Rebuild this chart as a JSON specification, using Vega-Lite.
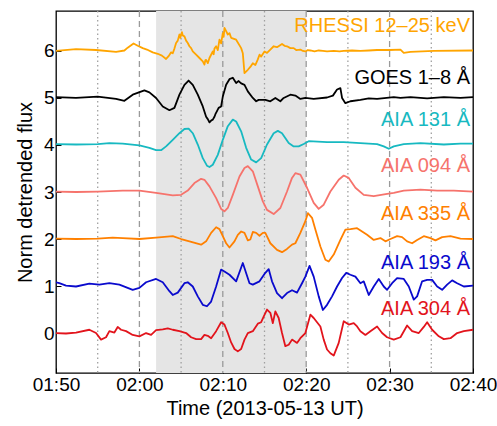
{
  "$schema": "https://vega.github.io/schema/vega-lite/v6.json",
  "width": 417,
  "height": 362,
  "autosize": {"type": "none"},
  "padding": {"left": 56, "top": 11, "right": 24, "bottom": 53},
  "config": {
    "font": "Liberation Sans",
    "view": {"stroke": "#000", "strokeWidth": 1.3},
    "axis": {"grid": false, "domain": false, "tickColor": "#000", "tickSize": -5, "labelColor": "#000", "titleColor": "#000", "labelFont": "Liberation Sans", "titleFont": "Liberation Sans", "labelFontSize": 19, "titleFontSize": 20, "titleFontWeight": "normal"}
  },
  "datasets": {
    "series": [
      {"s":"RHESSI","t":110,"v":6.00},{"s":"RHESSI","t":112.4,"v":6.04},{"s":"RHESSI","t":114.8,"v":6.02},{"s":"RHESSI","t":117.2,"v":5.98},{"s":"RHESSI","t":118.2,"v":6.01},{"s":"RHESSI","t":118.6,"v":6.07},{"s":"RHESSI","t":119.3,"v":6.16},{"s":"RHESSI","t":119.8,"v":6.11},{"s":"RHESSI","t":120.4,"v":6.06},{"s":"RHESSI","t":120.9,"v":6.03},{"s":"RHESSI","t":121.6,"v":5.97},{"s":"RHESSI","t":122.2,"v":5.94},{"s":"RHESSI","t":122.7,"v":5.90},{"s":"RHESSI","t":123.2,"v":5.83},{"s":"RHESSI","t":123.5,"v":5.89},{"s":"RHESSI","t":123.8,"v":5.97},{"s":"RHESSI","t":124.0,"v":5.95},{"s":"RHESSI","t":124.2,"v":6.05},{"s":"RHESSI","t":124.4,"v":6.17},{"s":"RHESSI","t":124.6,"v":6.22},{"s":"RHESSI","t":124.8,"v":6.35},{"s":"RHESSI","t":124.9,"v":6.28},{"s":"RHESSI","t":125.1,"v":6.40},{"s":"RHESSI","t":125.2,"v":6.33},{"s":"RHESSI","t":125.4,"v":6.31},{"s":"RHESSI","t":125.6,"v":6.22},{"s":"RHESSI","t":125.8,"v":6.17},{"s":"RHESSI","t":126.0,"v":6.10},{"s":"RHESSI","t":126.2,"v":6.06},{"s":"RHESSI","t":126.4,"v":5.99},{"s":"RHESSI","t":126.8,"v":5.92},{"s":"RHESSI","t":127.2,"v":5.85},{"s":"RHESSI","t":127.6,"v":5.78},{"s":"RHESSI","t":127.8,"v":5.71},{"s":"RHESSI","t":127.9,"v":5.80},{"s":"RHESSI","t":128.0,"v":5.81},{"s":"RHESSI","t":128.2,"v":5.74},{"s":"RHESSI","t":128.4,"v":5.85},{"s":"RHESSI","t":128.6,"v":5.92},{"s":"RHESSI","t":128.8,"v":5.99},{"s":"RHESSI","t":128.9,"v":5.93},{"s":"RHESSI","t":129.0,"v":6.05},{"s":"RHESSI","t":129.2,"v":6.10},{"s":"RHESSI","t":129.4,"v":6.02},{"s":"RHESSI","t":129.6,"v":6.24},{"s":"RHESSI","t":129.8,"v":6.16},{"s":"RHESSI","t":130.0,"v":6.38},{"s":"RHESSI","t":130.1,"v":6.30},{"s":"RHESSI","t":130.2,"v":6.49},{"s":"RHESSI","t":130.4,"v":6.42},{"s":"RHESSI","t":130.6,"v":6.35},{"s":"RHESSI","t":130.8,"v":6.38},{"s":"RHESSI","t":131.0,"v":6.28},{"s":"RHESSI","t":131.6,"v":6.24},{"s":"RHESSI","t":132.2,"v":6.06},{"s":"RHESSI","t":132.4,"v":5.95},{"s":"RHESSI","t":132.6,"v":5.53},{"s":"RHESSI","t":133.0,"v":5.60},{"s":"RHESSI","t":133.3,"v":5.66},{"s":"RHESSI","t":133.6,"v":5.74},{"s":"RHESSI","t":133.9,"v":5.70},{"s":"RHESSI","t":134.2,"v":5.82},{"s":"RHESSI","t":134.4,"v":5.92},{"s":"RHESSI","t":134.6,"v":5.88},{"s":"RHESSI","t":135.0,"v":5.99},{"s":"RHESSI","t":135.3,"v":5.96},{"s":"RHESSI","t":135.7,"v":6.03},{"s":"RHESSI","t":136.1,"v":6.10},{"s":"RHESSI","t":136.5,"v":6.08},{"s":"RHESSI","t":137.1,"v":6.15},{"s":"RHESSI","t":137.4,"v":6.11},{"s":"RHESSI","t":137.7,"v":6.10},{"s":"RHESSI","t":138.1,"v":6.06},{"s":"RHESSI","t":138.5,"v":6.06},{"s":"RHESSI","t":138.8,"v":6.02},{"s":"RHESSI","t":139.3,"v":6.03},{"s":"RHESSI","t":139.6,"v":6.00},{"s":"RHESSI","t":139.9,"v":5.99},{"s":"RHESSI","t":140.2,"v":6.02},{"s":"RHESSI","t":140.5,"v":6.01},{"s":"RHESSI","t":141.0,"v":5.99},{"s":"RHESSI","t":141.5,"v":6.01},{"s":"RHESSI","t":142.0,"v":6.00},{"s":"RHESSI","t":142.5,"v":5.99},{"s":"RHESSI","t":143.3,"v":6.00},{"s":"RHESSI","t":144.0,"v":5.99},{"s":"RHESSI","t":144.5,"v":6.00},{"s":"RHESSI","t":145.5,"v":6.01},{"s":"RHESSI","t":146.5,"v":6.00},{"s":"RHESSI","t":147.5,"v":6.01},{"s":"RHESSI","t":148.5,"v":6.02},{"s":"RHESSI","t":150.0,"v":6.02},{"s":"RHESSI","t":151.3,"v":6.03},{"s":"RHESSI","t":151.7,"v":5.96},{"s":"RHESSI","t":152.5,"v":5.98},{"s":"RHESSI","t":155.3,"v":6.00},{"s":"RHESSI","t":160,"v":6.01},

      {"s":"GOES","t":110,"v":5.02},{"s":"GOES","t":112.4,"v":5.00},{"s":"GOES","t":115,"v":5.03},{"s":"GOES","t":117.2,"v":4.98},{"s":"GOES","t":118.2,"v":4.94},{"s":"GOES","t":119.2,"v":5.07},{"s":"GOES","t":120.6,"v":5.16},{"s":"GOES","t":121.2,"v":5.12},{"s":"GOES","t":122,"v":5.00},{"s":"GOES","t":122.8,"v":4.82},{"s":"GOES","t":123.6,"v":4.74},{"s":"GOES","t":124.2,"v":4.79},{"s":"GOES","t":124.8,"v":5.07},{"s":"GOES","t":125.4,"v":5.28},{"s":"GOES","t":125.9,"v":5.37},{"s":"GOES","t":126.4,"v":5.28},{"s":"GOES","t":127,"v":5.07},{"s":"GOES","t":127.6,"v":4.82},{"s":"GOES","t":128,"v":4.60},{"s":"GOES","t":128.2,"v":4.55},{"s":"GOES","t":128.4,"v":4.48},{"s":"GOES","t":128.6,"v":4.52},{"s":"GOES","t":128.8,"v":4.54},{"s":"GOES","t":129.0,"v":4.60},{"s":"GOES","t":129.1,"v":4.65},{"s":"GOES","t":129.5,"v":4.79},{"s":"GOES","t":129.8,"v":4.82},{"s":"GOES","t":130,"v":5.03},{"s":"GOES","t":130.4,"v":5.28},{"s":"GOES","t":130.8,"v":5.40},{"s":"GOES","t":131.2,"v":5.43},{"s":"GOES","t":131.6,"v":5.32},{"s":"GOES","t":131.9,"v":5.36},{"s":"GOES","t":132.2,"v":5.31},{"s":"GOES","t":132.6,"v":5.28},{"s":"GOES","t":133,"v":5.14},{"s":"GOES","t":133.6,"v":5.00},{"s":"GOES","t":134,"v":4.93},{"s":"GOES","t":134.3,"v":4.96},{"s":"GOES","t":134.6,"v":4.96},{"s":"GOES","t":135.1,"v":4.96},{"s":"GOES","t":135.7,"v":4.93},{"s":"GOES","t":136.3,"v":5.00},{"s":"GOES","t":136.9,"v":4.93},{"s":"GOES","t":137.3,"v":5.00},{"s":"GOES","t":138.1,"v":5.07},{"s":"GOES","t":138.7,"v":5.05},{"s":"GOES","t":139.3,"v":4.98},{"s":"GOES","t":139.9,"v":5.00},{"s":"GOES","t":140.9,"v":4.98},{"s":"GOES","t":142.5,"v":5.01},{"s":"GOES","t":143.2,"v":5.05},{"s":"GOES","t":143.7,"v":5.18},{"s":"GOES","t":144.1,"v":5.21},{"s":"GOES","t":144.3,"v":5.00},{"s":"GOES","t":144.7,"v":4.89},{"s":"GOES","t":145.3,"v":4.93},{"s":"GOES","t":146.5,"v":4.96},{"s":"GOES","t":147.5,"v":4.99},{"s":"GOES","t":148.5,"v":4.98},{"s":"GOES","t":150.5,"v":5.02},{"s":"GOES","t":151.3,"v":5.00},{"s":"GOES","t":152.5,"v":5.02},{"s":"GOES","t":154.5,"v":4.99},{"s":"GOES","t":156.5,"v":5.02},{"s":"GOES","t":158.5,"v":5.00},{"s":"GOES","t":160,"v":5.02},

      {"s":"AIA131","t":110,"v":4.02},{"s":"AIA131","t":112.4,"v":4.01},{"s":"AIA131","t":115,"v":4.02},{"s":"AIA131","t":116.4,"v":4.04},{"s":"AIA131","t":118,"v":4.03},{"s":"AIA131","t":120,"v":3.99},{"s":"AIA131","t":121.2,"v":3.94},{"s":"AIA131","t":122,"v":3.89},{"s":"AIA131","t":122.6,"v":3.89},{"s":"AIA131","t":123.2,"v":3.97},{"s":"AIA131","t":124,"v":4.11},{"s":"AIA131","t":124.8,"v":4.25},{"s":"AIA131","t":125.4,"v":4.34},{"s":"AIA131","t":125.9,"v":4.35},{"s":"AIA131","t":126.4,"v":4.25},{"s":"AIA131","t":127,"v":4.01},{"s":"AIA131","t":127.6,"v":3.72},{"s":"AIA131","t":128.1,"v":3.56},{"s":"AIA131","t":128.4,"v":3.53},{"s":"AIA131","t":128.8,"v":3.58},{"s":"AIA131","t":129.4,"v":3.79},{"s":"AIA131","t":130,"v":4.11},{"s":"AIA131","t":130.6,"v":4.40},{"s":"AIA131","t":131.2,"v":4.54},{"s":"AIA131","t":131.6,"v":4.50},{"s":"AIA131","t":132.2,"v":4.29},{"s":"AIA131","t":132.8,"v":3.94},{"s":"AIA131","t":133.4,"v":3.69},{"s":"AIA131","t":134,"v":3.63},{"s":"AIA131","t":134.6,"v":3.72},{"s":"AIA131","t":135.3,"v":4.01},{"s":"AIA131","t":136.1,"v":4.25},{"s":"AIA131","t":136.6,"v":4.30},{"s":"AIA131","t":137.1,"v":4.25},{"s":"AIA131","t":137.9,"v":4.04},{"s":"AIA131","t":138.5,"v":3.97},{"s":"AIA131","t":139.1,"v":3.97},{"s":"AIA131","t":139.7,"v":4.02},{"s":"AIA131","t":140.3,"v":4.08},{"s":"AIA131","t":142.5,"v":4.06},{"s":"AIA131","t":144.5,"v":4.06},{"s":"AIA131","t":146.5,"v":4.04},{"s":"AIA131","t":148.5,"v":4.02},{"s":"AIA131","t":149.3,"v":3.97},{"s":"AIA131","t":149.9,"v":3.92},{"s":"AIA131","t":150.5,"v":3.97},{"s":"AIA131","t":151.7,"v":4.02},{"s":"AIA131","t":153.7,"v":4.04},{"s":"AIA131","t":156.5,"v":4.01},{"s":"AIA131","t":158.5,"v":4.03},{"s":"AIA131","t":160,"v":4.03},

      {"s":"AIA094","t":110,"v":3.01},{"s":"AIA094","t":112.4,"v":3.00},{"s":"AIA094","t":115,"v":3.01},{"s":"AIA094","t":118,"v":3.03},{"s":"AIA094","t":120,"v":3.03},{"s":"AIA094","t":122,"v":2.98},{"s":"AIA094","t":124,"v":2.93},{"s":"AIA094","t":125,"v":2.94},{"s":"AIA094","t":125.8,"v":3.03},{"s":"AIA094","t":126.6,"v":3.19},{"s":"AIA094","t":127.4,"v":3.28},{"s":"AIA094","t":127.8,"v":3.26},{"s":"AIA094","t":128.4,"v":3.12},{"s":"AIA094","t":129.2,"v":2.87},{"s":"AIA094","t":129.8,"v":2.64},{"s":"AIA094","t":130.2,"v":2.59},{"s":"AIA094","t":130.6,"v":2.66},{"s":"AIA094","t":131.2,"v":2.94},{"s":"AIA094","t":132,"v":3.33},{"s":"AIA094","t":132.6,"v":3.51},{"s":"AIA094","t":133,"v":3.55},{"s":"AIA094","t":133.6,"v":3.44},{"s":"AIA094","t":134.2,"v":3.12},{"s":"AIA094","t":134.8,"v":2.80},{"s":"AIA094","t":135.3,"v":2.62},{"s":"AIA094","t":136.1,"v":2.53},{"s":"AIA094","t":136.9,"v":2.66},{"s":"AIA094","t":137.7,"v":3.01},{"s":"AIA094","t":138.3,"v":3.30},{"s":"AIA094","t":138.7,"v":3.40},{"s":"AIA094","t":139.3,"v":3.37},{"s":"AIA094","t":140.1,"v":3.09},{"s":"AIA094","t":140.9,"v":2.77},{"s":"AIA094","t":141.5,"v":2.64},{"s":"AIA094","t":142.1,"v":2.73},{"s":"AIA094","t":142.9,"v":3.01},{"s":"AIA094","t":143.9,"v":3.26},{"s":"AIA094","t":144.5,"v":3.35},{"s":"AIA094","t":145.1,"v":3.30},{"s":"AIA094","t":145.9,"v":3.09},{"s":"AIA094","t":146.9,"v":2.94},{"s":"AIA094","t":148.1,"v":2.91},{"s":"AIA094","t":149.7,"v":2.96},{"s":"AIA094","t":150.5,"v":2.98},{"s":"AIA094","t":151.7,"v":3.03},{"s":"AIA094","t":153.7,"v":3.05},{"s":"AIA094","t":155.7,"v":3.03},{"s":"AIA094","t":157.7,"v":3.03},{"s":"AIA094","t":160,"v":3.01},

      {"s":"AIA335","t":110,"v":2.01},{"s":"AIA335","t":112.4,"v":2.00},{"s":"AIA335","t":115,"v":2.01},{"s":"AIA335","t":116.8,"v":2.03},{"s":"AIA335","t":118,"v":2.02},{"s":"AIA335","t":120,"v":2.00},{"s":"AIA335","t":122,"v":2.03},{"s":"AIA335","t":124,"v":2.06},{"s":"AIA335","t":125,"v":2.00},{"s":"AIA335","t":126,"v":1.95},{"s":"AIA335","t":127.4,"v":1.88},{"s":"AIA335","t":128,"v":1.95},{"s":"AIA335","t":128.6,"v":2.13},{"s":"AIA335","t":129.2,"v":2.25},{"s":"AIA335","t":129.6,"v":2.21},{"s":"AIA335","t":130,"v":2.06},{"s":"AIA335","t":130.4,"v":1.91},{"s":"AIA335","t":130.8,"v":1.82},{"s":"AIA335","t":131.4,"v":1.95},{"s":"AIA335","t":131.8,"v":2.09},{"s":"AIA335","t":132.2,"v":2.16},{"s":"AIA335","t":132.6,"v":2.13},{"s":"AIA335","t":133,"v":1.97},{"s":"AIA335","t":133.3,"v":1.99},{"s":"AIA335","t":133.6,"v":2.15},{"s":"AIA335","t":134,"v":2.13},{"s":"AIA335","t":134.4,"v":2.07},{"s":"AIA335","t":134.8,"v":2.13},{"s":"AIA335","t":135.1,"v":2.13},{"s":"AIA335","t":135.7,"v":1.91},{"s":"AIA335","t":136.5,"v":1.77},{"s":"AIA335","t":137.1,"v":1.72},{"s":"AIA335","t":137.7,"v":1.79},{"s":"AIA335","t":138.3,"v":1.88},{"s":"AIA335","t":138.7,"v":1.91},{"s":"AIA335","t":139.3,"v":2.13},{"s":"AIA335","t":139.9,"v":2.38},{"s":"AIA335","t":140.2,"v":2.55},{"s":"AIA335","t":140.7,"v":2.45},{"s":"AIA335","t":141.1,"v":2.20},{"s":"AIA335","t":141.7,"v":1.84},{"s":"AIA335","t":142.3,"v":1.56},{"s":"AIA335","t":142.7,"v":1.52},{"s":"AIA335","t":143.3,"v":1.67},{"s":"AIA335","t":144.1,"v":1.98},{"s":"AIA335","t":144.7,"v":2.20},{"s":"AIA335","t":145.3,"v":2.21},{"s":"AIA335","t":146.1,"v":2.23},{"s":"AIA335","t":146.7,"v":2.16},{"s":"AIA335","t":147.3,"v":2.09},{"s":"AIA335","t":148.1,"v":1.98},{"s":"AIA335","t":148.9,"v":2.02},{"s":"AIA335","t":149.5,"v":1.95},{"s":"AIA335","t":150.1,"v":2.00},{"s":"AIA335","t":150.9,"v":2.06},{"s":"AIA335","t":151.5,"v":2.04},{"s":"AIA335","t":152.1,"v":1.95},{"s":"AIA335","t":152.7,"v":1.91},{"s":"AIA335","t":153.3,"v":1.98},{"s":"AIA335","t":154.1,"v":2.06},{"s":"AIA335","t":154.9,"v":2.02},{"s":"AIA335","t":155.5,"v":1.97},{"s":"AIA335","t":156.3,"v":2.04},{"s":"AIA335","t":157.3,"v":2.06},{"s":"AIA335","t":158.5,"v":2.01},{"s":"AIA335","t":160,"v":2.00},

      {"s":"AIA193","t":110,"v":1.08},{"s":"AIA193","t":110.4,"v":1.06},{"s":"AIA193","t":111.2,"v":1.01},{"s":"AIA193","t":112.4,"v":0.99},{"s":"AIA193","t":114,"v":1.05},{"s":"AIA193","t":115.2,"v":1.03},{"s":"AIA193","t":116.4,"v":1.06},{"s":"AIA193","t":117.6,"v":1.03},{"s":"AIA193","t":119.2,"v":0.92},{"s":"AIA193","t":120,"v":0.96},{"s":"AIA193","t":120.8,"v":1.08},{"s":"AIA193","t":122,"v":1.15},{"s":"AIA193","t":122.8,"v":1.08},{"s":"AIA193","t":123.6,"v":0.89},{"s":"AIA193","t":124,"v":0.81},{"s":"AIA193","t":124.6,"v":0.86},{"s":"AIA193","t":125.4,"v":1.06},{"s":"AIA193","t":125.8,"v":1.08},{"s":"AIA193","t":126.4,"v":0.99},{"s":"AIA193","t":127,"v":0.78},{"s":"AIA193","t":127.6,"v":0.60},{"s":"AIA193","t":128.1,"v":0.57},{"s":"AIA193","t":128.6,"v":0.67},{"s":"AIA193","t":129.2,"v":0.99},{"s":"AIA193","t":129.8,"v":1.35},{"s":"AIA193","t":130.2,"v":1.31},{"s":"AIA193","t":130.8,"v":1.24},{"s":"AIA193","t":131.6,"v":1.10},{"s":"AIA193","t":132.4,"v":1.49},{"s":"AIA193","t":133.2,"v":1.06},{"s":"AIA193","t":133.6,"v":1.03},{"s":"AIA193","t":134.4,"v":1.10},{"s":"AIA193","t":135.1,"v":1.28},{"s":"AIA193","t":135.5,"v":1.36},{"s":"AIA193","t":135.9,"v":1.10},{"s":"AIA193","t":136.5,"v":0.85},{"s":"AIA193","t":137.1,"v":0.74},{"s":"AIA193","t":137.7,"v":0.85},{"s":"AIA193","t":138.3,"v":0.91},{"s":"AIA193","t":138.9,"v":0.86},{"s":"AIA193","t":139.5,"v":1.06},{"s":"AIA193","t":139.9,"v":1.20},{"s":"AIA193","t":140.4,"v":1.43},{"s":"AIA193","t":140.9,"v":1.20},{"s":"AIA193","t":141.5,"v":0.78},{"s":"AIA193","t":142.0,"v":0.49},{"s":"AIA193","t":142.5,"v":0.60},{"s":"AIA193","t":143.1,"v":0.78},{"s":"AIA193","t":143.7,"v":0.99},{"s":"AIA193","t":144.3,"v":1.17},{"s":"AIA193","t":144.8,"v":1.28},{"s":"AIA193","t":145.3,"v":1.24},{"s":"AIA193","t":145.9,"v":1.20},{"s":"AIA193","t":146.5,"v":1.06},{"s":"AIA193","t":146.9,"v":1.10},{"s":"AIA193","t":147.5,"v":0.81},{"s":"AIA193","t":148.1,"v":0.99},{"s":"AIA193","t":148.7,"v":1.15},{"s":"AIA193","t":149.3,"v":0.99},{"s":"AIA193","t":149.7,"v":0.92},{"s":"AIA193","t":150.3,"v":1.06},{"s":"AIA193","t":150.9,"v":1.17},{"s":"AIA193","t":151.7,"v":1.15},{"s":"AIA193","t":152.3,"v":0.99},{"s":"AIA193","t":152.9,"v":0.71},{"s":"AIA193","t":153.3,"v":0.78},{"s":"AIA193","t":153.9,"v":1.10},{"s":"AIA193","t":154.5,"v":1.13},{"s":"AIA193","t":155.1,"v":1.13},{"s":"AIA193","t":155.7,"v":0.99},{"s":"AIA193","t":156.3,"v":0.92},{"s":"AIA193","t":156.9,"v":1.03},{"s":"AIA193","t":157.5,"v":1.12},{"s":"AIA193","t":158.1,"v":1.06},{"s":"AIA193","t":158.9,"v":0.99},{"s":"AIA193","t":160,"v":1.01},

      {"s":"AIA304","t":110,"v":0.00},{"s":"AIA304","t":111.2,"v":-0.01},{"s":"AIA304","t":112.4,"v":0.01},{"s":"AIA304","t":114,"v":0.07},{"s":"AIA304","t":114.8,"v":0.00},{"s":"AIA304","t":115.4,"v":-0.14},{"s":"AIA304","t":116,"v":-0.09},{"s":"AIA304","t":116.4,"v":0.04},{"s":"AIA304","t":117,"v":0.01},{"s":"AIA304","t":117.4,"v":0.13},{"s":"AIA304","t":117.8,"v":0.07},{"s":"AIA304","t":118.4,"v":0.04},{"s":"AIA304","t":119.2,"v":-0.04},{"s":"AIA304","t":120,"v":-0.07},{"s":"AIA304","t":120.8,"v":0.00},{"s":"AIA304","t":121.4,"v":-0.04},{"s":"AIA304","t":122,"v":0.06},{"s":"AIA304","t":122.8,"v":0.08},{"s":"AIA304","t":123.4,"v":0.10},{"s":"AIA304","t":124,"v":0.07},{"s":"AIA304","t":124.8,"v":0.04},{"s":"AIA304","t":125.6,"v":0.00},{"s":"AIA304","t":126.2,"v":-0.09},{"s":"AIA304","t":126.8,"v":-0.13},{"s":"AIA304","t":127.4,"v":-0.13},{"s":"AIA304","t":127.8,"v":-0.04},{"s":"AIA304","t":128.2,"v":-0.06},{"s":"AIA304","t":128.6,"v":-0.11},{"s":"AIA304","t":129.2,"v":0.04},{"s":"AIA304","t":129.8,"v":0.23},{"s":"AIA304","t":130.2,"v":0.18},{"s":"AIA304","t":130.6,"v":0.00},{"s":"AIA304","t":131,"v":-0.20},{"s":"AIA304","t":131.4,"v":-0.34},{"s":"AIA304","t":131.8,"v":-0.39},{"s":"AIA304","t":132.2,"v":-0.34},{"s":"AIA304","t":132.6,"v":-0.14},{"s":"AIA304","t":133,"v":0.00},{"s":"AIA304","t":133.6,"v":0.04},{"s":"AIA304","t":134.2,"v":0.20},{"s":"AIA304","t":134.6,"v":0.23},{"s":"AIA304","t":134.9,"v":0.35},{"s":"AIA304","t":135.3,"v":0.50},{"s":"AIA304","t":135.7,"v":0.43},{"s":"AIA304","t":136.0,"v":0.21},{"s":"AIA304","t":136.3,"v":0.46},{"s":"AIA304","t":136.7,"v":0.32},{"s":"AIA304","t":137.1,"v":0.00},{"s":"AIA304","t":137.5,"v":-0.28},{"s":"AIA304","t":137.9,"v":-0.25},{"s":"AIA304","t":138.3,"v":-0.14},{"s":"AIA304","t":138.9,"v":-0.21},{"s":"AIA304","t":139.3,"v":-0.11},{"s":"AIA304","t":139.9,"v":0.00},{"s":"AIA304","t":140.5,"v":0.39},{"s":"AIA304","t":140.9,"v":0.32},{"s":"AIA304","t":141.7,"v":0.14},{"s":"AIA304","t":142.1,"v":-0.14},{"s":"AIA304","t":142.5,"v":-0.35},{"s":"AIA304","t":142.9,"v":-0.43},{"s":"AIA304","t":143.3,"v":-0.48},{"s":"AIA304","t":143.9,"v":-0.21},{"s":"AIA304","t":144.5,"v":0.25},{"s":"AIA304","t":145.1,"v":0.18},{"s":"AIA304","t":145.7,"v":0.21},{"s":"AIA304","t":146.1,"v":0.14},{"s":"AIA304","t":146.5,"v":0.04},{"s":"AIA304","t":147.1,"v":-0.04},{"s":"AIA304","t":147.7,"v":0.04},{"s":"AIA304","t":148.5,"v":0.14},{"s":"AIA304","t":149.1,"v":0.00},{"s":"AIA304","t":149.7,"v":-0.09},{"s":"AIA304","t":150.5,"v":-0.14},{"s":"AIA304","t":151.3,"v":-0.09},{"s":"AIA304","t":152.1,"v":0.16},{"s":"AIA304","t":152.7,"v":0.04},{"s":"AIA304","t":153.5,"v":0.00},{"s":"AIA304","t":154.1,"v":0.13},{"s":"AIA304","t":154.5,"v":0.23},{"s":"AIA304","t":155.1,"v":0.07},{"s":"AIA304","t":155.9,"v":-0.07},{"s":"AIA304","t":156.5,"v":-0.13},{"s":"AIA304","t":157.3,"v":-0.11},{"s":"AIA304","t":158.1,"v":0.00},{"s":"AIA304","t":158.9,"v":0.04},{"s":"AIA304","t":160,"v":0.07}
    ],
    "labels": [
      {"s":"RHESSI","label":"RHESSI 12–25 keV","t":160,"v":6.53},
      {"s":"GOES","label":"GOES 1–8 Å","t":160,"v":5.43},
      {"s":"AIA131","label":"AIA 131 Å","t":160,"v":4.53},
      {"s":"AIA094","label":"AIA 094 Å","t":160,"v":3.55},
      {"s":"AIA335","label":"AIA 335 Å","t":160,"v":2.54},
      {"s":"AIA193","label":"AIA 193 Å","t":160,"v":1.49},
      {"s":"AIA304","label":"AIA 304 Å","t":160,"v":0.51}
    ],
    "vlines": [
      {"t":115,"kind":"dotted"},{"t":125,"kind":"dotted"},{"t":135,"kind":"dotted"},{"t":145,"kind":"dotted"},{"t":155,"kind":"dotted"},
      {"t":120,"kind":"dashed"},{"t":130,"kind":"dashed"},{"t":140,"kind":"dashed"},{"t":150,"kind":"dashed"}
    ],
    "band": [{"t1":122,"t2":140}]
  },
  "encoding": {
    "x": {"field": "t", "type": "quantitative", "scale": {"domain": [110, 160], "nice": false, "zero": false},
      "axis": {"title": "Time (2013-05-13 UT)", "values": [110,120,130,140,150,160], "labelExpr": "'0' + floor(datum.value/60) + ':' + (datum.value%60 < 10 ? '0' : '') + (datum.value%60)", "labelPadding": 7, "titlePadding": 4, "labelFlush": false}},
    "y": {"field": "v", "type": "quantitative", "scale": {"domain": [-0.85, 6.85], "nice": false, "zero": false},
      "axis": {"title": "Norm detrended flux", "values": [0,1,2,3,4,5,6], "labelPadding": 7, "titlePadding": 8}}
  },
  "layer": [
    {"data": {"name": "band"}, "mark": {"type": "rect", "color": "#e5e5e5"},
      "encoding": {"x": {"field": "t1", "type": "quantitative"}, "x2": {"field": "t2"}, "y": null}},
    {"data": {"name": "vlines"}, "transform": [{"filter": "datum.kind == 'dotted'"}],
      "mark": {"type": "rule", "color": "#a0a0a0", "strokeWidth": 1.3, "strokeDash": [1.5, 3]},
      "encoding": {"y": null}},
    {"data": {"name": "vlines"}, "transform": [{"filter": "datum.kind == 'dashed'"}],
      "mark": {"type": "rule", "color": "#9a9a9a", "strokeWidth": 1.3, "strokeDash": [6, 4]},
      "encoding": {"y": null}},
    {"data": {"name": "series"}, "mark": {"type": "line", "strokeWidth": 1.8, "strokeJoin": "round", "clip": true},
      "encoding": {"color": {"field": "s", "type": "nominal", "legend": null,
        "scale": {"domain": ["RHESSI","GOES","AIA131","AIA094","AIA335","AIA193","AIA304"], "range": ["#FFA500","#000000","#17B9C1","#F6736C","#FF8000","#0A0ACD","#E2141C"]}}}},
    {"data": {"name": "labels"}, "mark": {"type": "text", "align": "right", "baseline": "middle", "dx": -3, "fontSize": 20, "font": "Liberation Sans"},
      "encoding": {"text": {"field": "label"}, "color": {"field": "s", "type": "nominal", "legend": null}}}
  ]
}
